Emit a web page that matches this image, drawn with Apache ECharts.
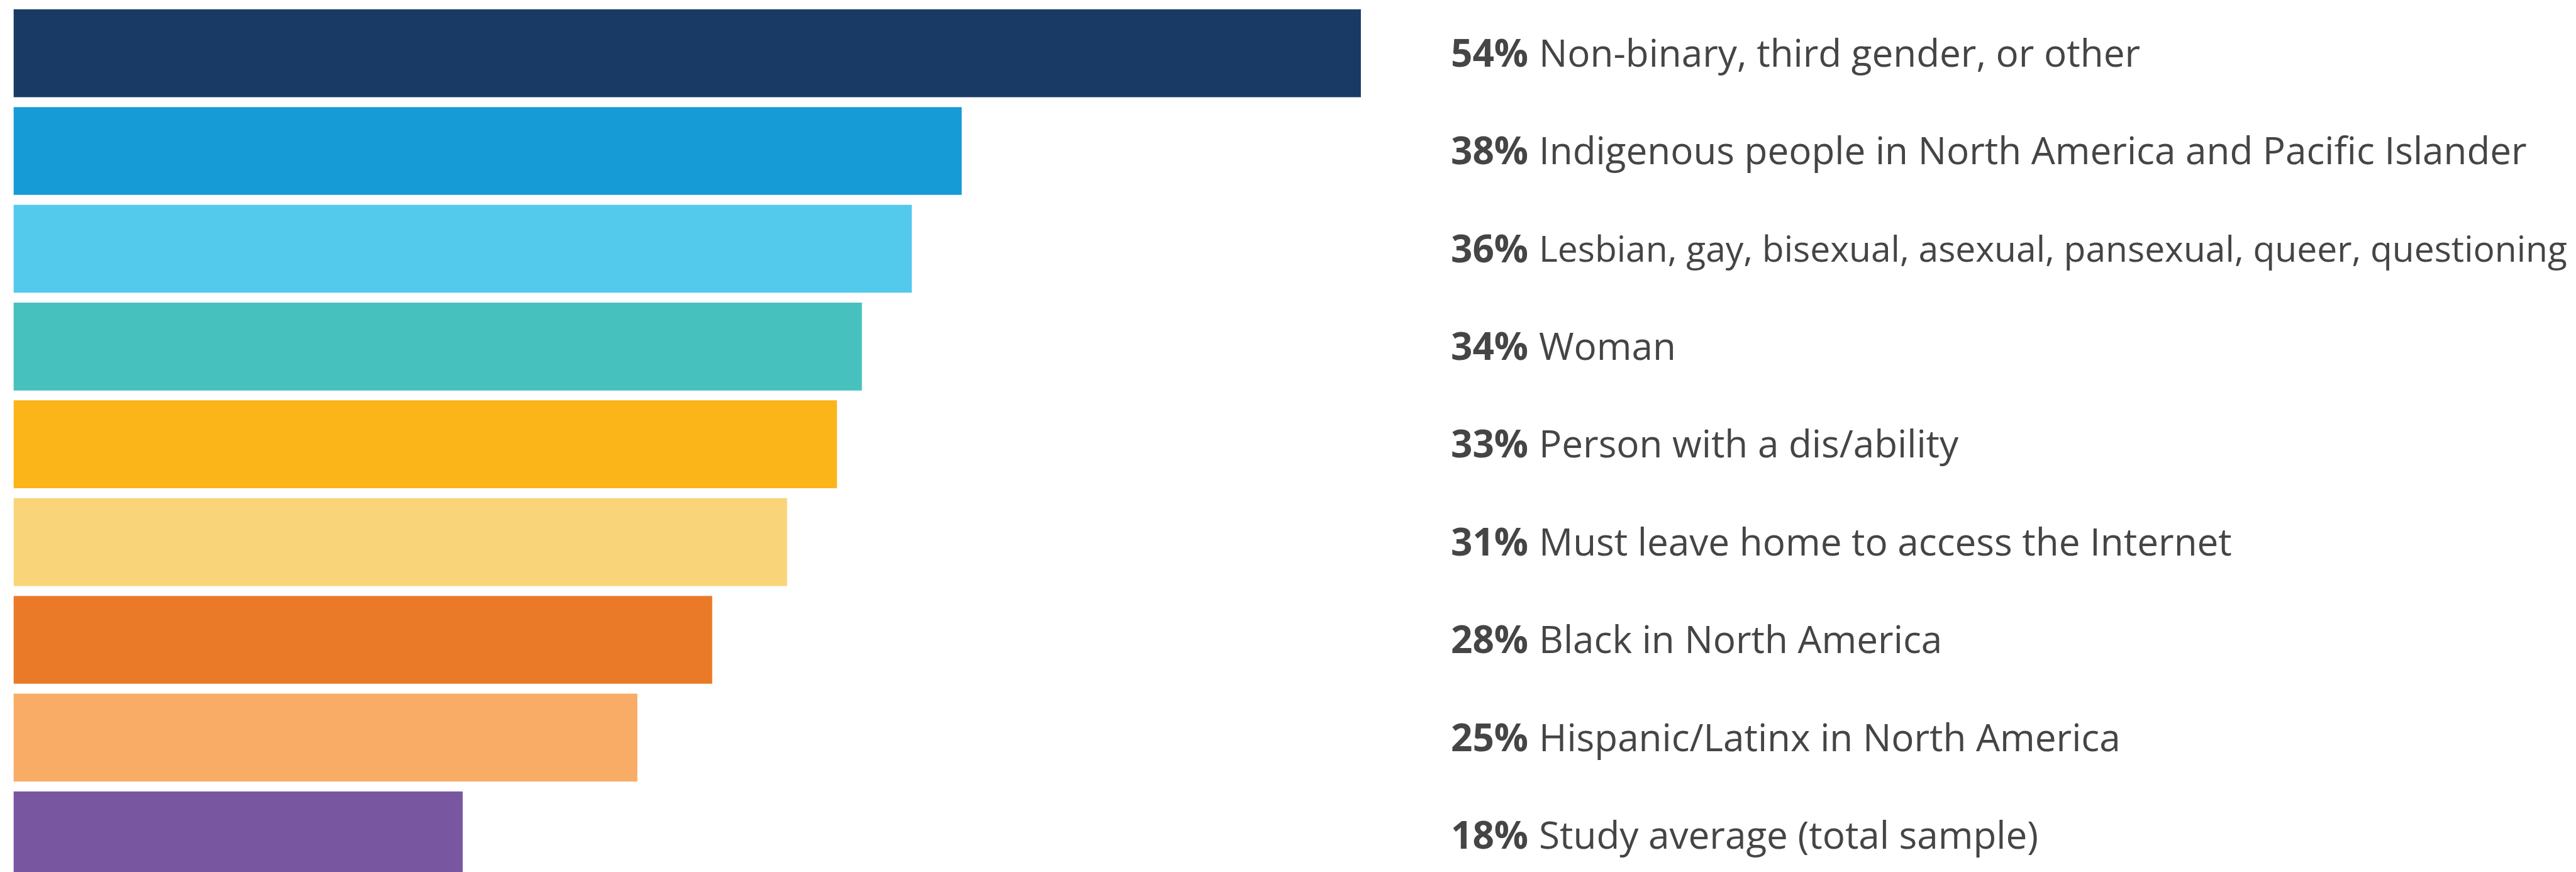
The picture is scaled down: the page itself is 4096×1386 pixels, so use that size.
<!DOCTYPE html>
<html>
<head>
<meta charset="utf-8">
<style>
  html, body { margin: 0; padding: 0; background: #fff; }
  #chart { width: 4096px; height: 1386px; }
</style>
<script src="https://cdn.jsdelivr.net/npm/echarts@6/dist/echarts.min.js"></script>
</head>
<body>
<div id="chart"></div>
<script>
// categories top to bottom
const categories = [
    'Non-binary, third gender, or other',
    'Indigenous people in North America and Pacific Islander',
    'Lesbian, gay, bisexual, asexual, pansexual, queer, questioning',
    'Woman',
    'Person with a dis/ability',
    'Must leave home to access the Internet',
    'Black in North America',
    'Hispanic/Latinx in North America',
    'Study average (total sample)',
];
const values = [54, 38, 36, 34, 33, 31, 28, 25, 18];
const colors = [
    '#183a65', '#169bd7', '#53c9eb', '#46c1be', '#fbb519',
    '#f9d479', '#ea7a27', '#f9ac66', '#7857a0',
];

// layout (already at 0.868 of the reference)
const zeroX = 21.7;
const pxPerPct = 39.67;
const labelX = 2307;
const labelGap = 14;
const gridTop = 6.9;
const band = 155.4;
const barH = 139.7;
const fontSize = 60.2;
const pctGap = 17;
const textRight = 4082;

const gridW = labelX - labelGap - zeroX;
const xMax = gridW / pxPerPct;

// shrink a label only if it would run past the right edge
const ctx = document.createElement('canvas').getContext('2d');
function textWidth(str, weight, size) {
    ctx.font = `${weight} ${size}px "Open Sans"`;
    return ctx.measureText(str).width;
}
const rich = {
    b: {
        fontFamily: 'Open Sans',
        fontWeight: 'bold',
        fontSize: fontSize,
        color: '#454545',
        padding: [8, pctGap, 0, 0],
    },
};
categories.forEach((name, i) => {
    const pctW = textWidth(values[i] + '%', 'bold', fontSize);
    const nameW = textWidth(name, 'normal', fontSize);
    const room = textRight - labelX - pctW - pctGap;
    const fs = nameW > room ? fontSize * room / nameW : fontSize;
    rich['n' + i] = {
        fontFamily: 'Open Sans',
        fontSize: fs,
        color: '#454545',
        padding: [8, 0, 0, 0],
    };
});

const chart = echarts.init(document.getElementById('chart'));
chart.setOption({
    animation: false,
    grid: {
        left: zeroX,
        top: gridTop,
        width: gridW,
        height: band * categories.length,
        containLabel: false,
        outerBoundsMode: 'none',
    },
    xAxis: {
        type: 'value',
        min: 0,
        max: xMax,
        show: false,
    },
    yAxis: {
        type: 'category',
        data: categories,
        inverse: true,
        position: 'right',
        axisLine: { show: false },
        axisTick: { show: false },
        splitLine: { show: false },
        axisLabel: {
            margin: labelGap,
            align: 'left',
            formatter: (name, idx) => `{b|${values[idx]}%}{n${idx}|${name}}`,
            rich: rich,
        },
    },
    series: [{
        type: 'bar',
        barWidth: barH,
        data: values.map((v, i) => ({ value: v, itemStyle: { color: colors[i] } })),
        silent: true,
    }],
});
</script>
</body>
</html>
